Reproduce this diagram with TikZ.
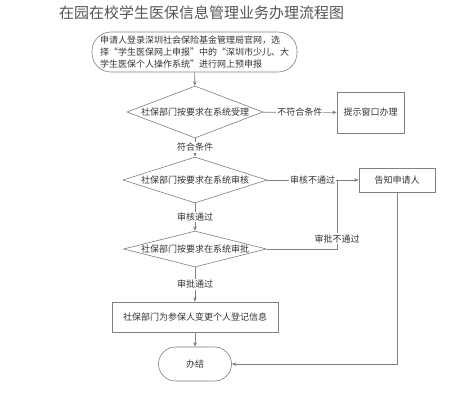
\documentclass[tikz,border=0pt]{standalone}
\usepackage{fontspec}
\setmainfont{Noto Sans CJK SC}
\usetikzlibrary{shapes.geometric,arrows.meta}
\definecolor{linec}{HTML}{808080}
\definecolor{textc}{HTML}{333333}
\definecolor{titlec}{HTML}{555555}
\tikzset{
  base/.style={draw=linec, line width=0.6pt, text=textc, font=\fontsize{9}{12}\selectfont, inner sep=0pt},
  term/.style={base, rectangle, rounded corners=17pt},
  procbox/.style={base, rectangle},
  decide/.style={base, diamond},
  conn/.style={draw=linec, line width=0.6pt, -{Stealth[length=4.5pt,width=3.5pt]}},
  plainconn/.style={draw=linec, line width=0.6pt},
  lbl/.style={fill=white, text=textc, font=\fontsize{9}{12}\selectfont, inner sep=1pt}
}
\begin{document}
\begin{tikzpicture}[x=1pt,y=-1pt]
\useasboundingbox[fill=white] (0,0) rectangle (458,400);
\node[text=titlec, font=\fontsize{15}{18}\selectfont] (title) at (201.5,13) {在园在校学生医保信息管理业务办理流程图};

\node[term, rounded corners=19pt, minimum width=205pt, minimum height=40pt, align=left] (start) at (194.5,52)
  {申请人登录深圳社会保险基金管理局官网，选\\择“学生医保网上申报”中的“深圳市少儿、大\\学生医保个人操作系统”进行网上预申报};

\node[decide, minimum width=136pt, minimum height=52pt] (d1) at (195,112) {\makebox[0pt]{社保部门按要求在系统受理}};
\node[procbox, minimum width=67pt, minimum height=41pt] (tip) at (370.5,112.5) {提示窗口办理};

\node[decide, minimum width=144pt, minimum height=46pt] (d2) at (195,180) {\makebox[0pt]{社保部门按要求在系统审核}};
\node[procbox, minimum width=76pt, minimum height=24pt] (notify) at (397,180) {告知申请人};

\node[decide, minimum width=143pt, minimum height=36pt] (d3) at (195,249) {\makebox[0pt]{社保部门按要求在系统审批}};

\node[procbox, minimum width=166pt, minimum height=30pt] (change) at (195,317) {社保部门为参保人变更个人登记信息};

\node[term, minimum width=73pt, minimum height=34pt] (done) at (195,364) {办结};

\coordinate (j) at (337,180);
\coordinate (k) at (337,249);
\coordinate (m) at (397,364);

\draw[conn] (start) -- (d1);
\draw[conn] (d1) -- node[lbl] {不符合条件} (tip);
\draw[conn] (d1) -- node[lbl, pos=0.5] {符合条件} (d2);
\draw[plainconn] (d2) -- node[lbl, pos=0.65] {审核不通过} (j);
\draw[conn] (j) -- (notify);
\draw[plainconn] (d3) -- (k) -- node[lbl, pos=0.15] {审批不通过} (j);
\draw[conn] (d2) -- node[lbl] {审核通过} (d3);
\draw[conn] (d3) -- node[lbl] {审批通过} (change);
\draw[conn] (change) -- (done);
\draw[conn] (notify) -- (m) -- (done);
\end{tikzpicture}
\end{document}
